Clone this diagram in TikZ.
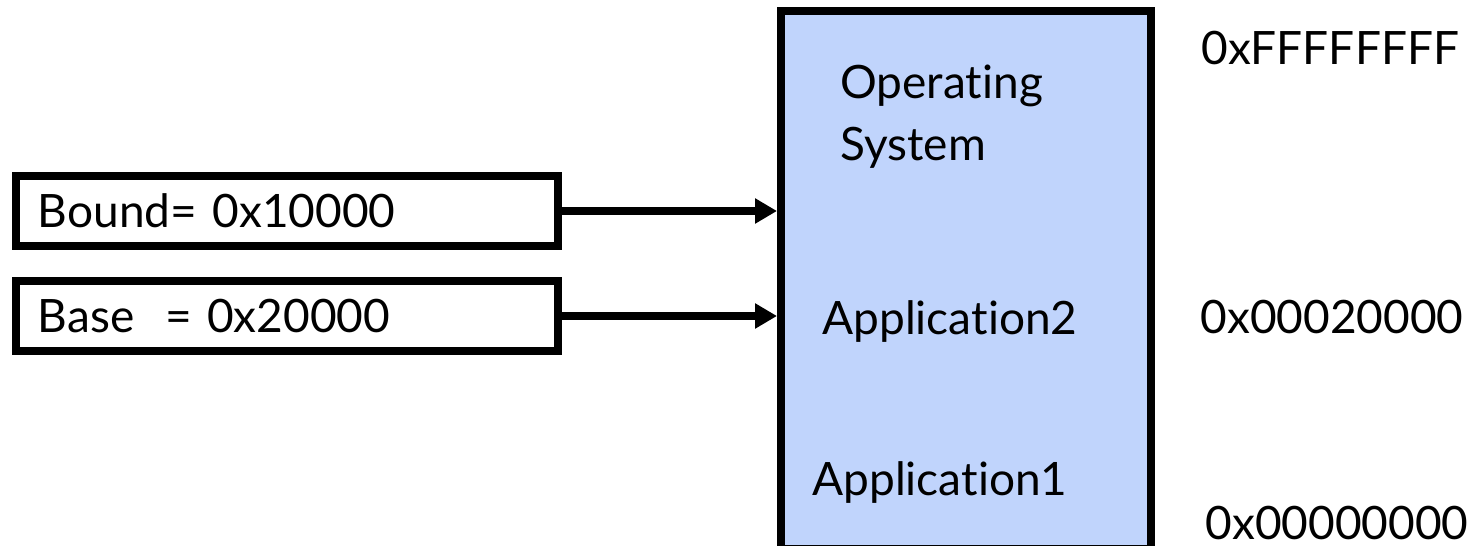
\documentclass[tikz,border=0pt]{standalone}
\usepackage{fontspec}
\setmainfont{Lato}[Ligatures=NoCommon]
\usetikzlibrary{arrows.meta}
\definecolor{memblue}{RGB}{192,212,252}

\begin{document}
\begin{tikzpicture}[x=0.5pt, y=-0.5pt]
				\tikzstyle{every node}=[inner sep=0pt, font=\fontsize{23}{31}\selectfont]
				\tikzstyle{regbox}=[draw, line width=4pt, inner xsep=11pt, text width=249pt, minimum height=35pt, align=left]
				\tikzstyle{memtext}=[anchor=base west, align=left]
				\tikzstyle{ptr}=[line width=4pt, -{Triangle[length=11pt, width=12pt]}]
				\useasboundingbox (0,0) rectangle (1473,546);
				\node [draw, line width=4pt, fill=memblue, minimum width=185pt, minimum height=269pt] (mem) at (966,280) {};
				\node [memtext] (os) at (840,160) {Operating\\System};
				\node [memtext] (app2) at (822,334) {Application2};
				\node [memtext] (app1) at (812,495) {Application1};
				\node [memtext] (top) at (1201,64) {0xFFFFFFFF};
				\node [memtext] (mid) at (1200,333) {0x00020000};
				\node [memtext] (low) at (1205,539) {0x00000000};
				\node [regbox] (bound) at (287,211) {Bound= 0x10000};
				\node [regbox] (base) at (287,316) {Base\ \ = 0x20000};
				\draw [ptr] (bound) -- (bound -| mem.west);
				\draw [ptr] (base) -- (base -| mem.west);
		\end{tikzpicture}
\end{document}
